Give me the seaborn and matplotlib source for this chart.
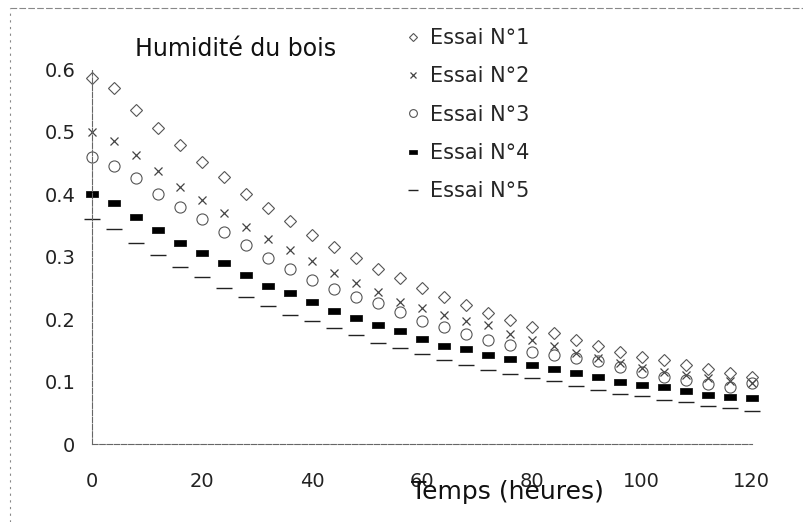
import matplotlib.pyplot as plt
import matplotlib.lines as mlines
import pandas as pd
import seaborn as sns

sns.set_theme(style='white')
plt.rcParams['font.family'] = ['DejaVu Sans']

# time (hours)
temps = [0, 4, 8, 12, 16, 20, 24, 28, 32, 36, 40, 44, 48, 52, 56, 60,
         64, 68, 72, 76, 80, 84, 88, 92, 96, 100, 104, 108, 112, 116, 120]

essai_1 = [0.585, 0.57, 0.535, 0.505, 0.478, 0.452, 0.428, 0.40, 0.377, 0.357,
           0.335, 0.315, 0.298, 0.28, 0.265, 0.25, 0.236, 0.222, 0.21, 0.199,
           0.187, 0.178, 0.167, 0.157, 0.148, 0.14, 0.134, 0.127, 0.12, 0.114,
           0.108]
essai_2 = [0.50, 0.485, 0.462, 0.437, 0.412, 0.39, 0.37, 0.348, 0.328, 0.31,
           0.293, 0.273, 0.258, 0.243, 0.228, 0.217, 0.206, 0.197, 0.19, 0.176,
           0.166, 0.157, 0.146, 0.137, 0.129, 0.122, 0.116, 0.11, 0.105, 0.101,
           0.097]
essai_3 = [0.46, 0.445, 0.425, 0.40, 0.38, 0.36, 0.34, 0.318, 0.297, 0.28,
           0.263, 0.248, 0.236, 0.225, 0.211, 0.197, 0.188, 0.176, 0.167, 0.158,
           0.147, 0.143, 0.138, 0.133, 0.124, 0.115, 0.107, 0.103, 0.096, 0.092,
           0.097]
essai_4 = [0.40, 0.385, 0.363, 0.343, 0.322, 0.305, 0.289, 0.27, 0.253, 0.241,
           0.228, 0.213, 0.202, 0.19, 0.181, 0.168, 0.157, 0.152, 0.143, 0.136,
           0.127, 0.12, 0.114, 0.108, 0.10, 0.095, 0.092, 0.085, 0.079, 0.075,
           0.073]
essai_5 = [0.36, 0.344, 0.322, 0.303, 0.284, 0.268, 0.25, 0.236, 0.221, 0.207,
           0.197, 0.186, 0.175, 0.162, 0.153, 0.144, 0.135, 0.127, 0.119, 0.112,
           0.106, 0.101, 0.093, 0.087, 0.08, 0.077, 0.071, 0.067, 0.061, 0.058,
           0.053]

labels = ['Essai N°1', 'Essai N°2', 'Essai N°3', 'Essai N°4', 'Essai N°5']
series = [essai_1, essai_2, essai_3, essai_4, essai_5]

x_ticks = [0, 20, 40, 60, 80, 100, 120]
y_ticks = [0, 0.1, 0.2, 0.3, 0.4, 0.5, 0.6]
y_tick_labels = ['0', '0.1', '0.2', '0.3', '0.4', '0.5', '0.6']

# flat wide rectangle for the black marker
rect = [(-1, -0.6), (1, -0.6), (1, 0.6), (-1, 0.6), (-1, -0.6)]
styles = [
    dict(marker='D', ms=6, mfc='none', mec='#555555', mew=0.8),
    dict(marker='x', ms=6, mec='#444444', mew=0.9),
    dict(marker='o', ms=8, mfc='none', mec='#555555', mew=0.8),
    dict(marker=rect, ms=8, mfc='black', mec='black', mew=0.5),
    dict(marker='_', ms=11, mec='#222222', mew=1.0),
]

fig = plt.figure(figsize=(8.04, 5.22), dpi=100)
ax = fig.add_axes([0.1144, 0.1494, 0.8206, 0.7184])

for lab, vals, st in zip(labels, series, styles):
    df = pd.DataFrame({'Temps': temps, 'Humidite': vals})
    sns.lineplot(data=df, x='Temps', y='Humidite', ax=ax, linestyle='none',
                 label=lab, clip_on=False, **st)

ax.set_xlim(0, 120)
ax.set_ylim(0, 0.6)
ax.set_xticks(x_ticks)
ax.set_yticks(y_ticks)
ax.set_yticklabels(y_tick_labels)
ax.tick_params(axis='y', direction='inout', length=8, width=0.8,
               color='#444444', pad=8, labelsize=14, labelcolor='#222222')
ax.tick_params(axis='x', direction='in', length=4, width=0.8,
               color='#444444', pad=20, labelsize=14, labelcolor='#222222')

sns.despine(ax=ax, top=True, right=True)
for side in ['left', 'bottom']:
    ax.spines[side].set_color('#666666')
    ax.spines[side].set_linewidth(0.8)
    ax.spines[side].set_linestyle((0, (5, 1.5)))

ax.set_ylabel('')
ax.set_xlabel('Temps (heures)', fontsize=18, color='#111111')
ax.xaxis.set_label_coords(0.629, -0.127)
ax.xaxis.label.set_va('center')

fig.text(236 / 804, 1 - 49 / 522, 'Humidité du bois', fontsize=17,
         ha='center', va='center', color='#111111')

ax.legend(loc='upper left', bbox_to_anchor=(408 / 804, 1 - 28 / 522),
          bbox_transform=fig.transFigure, frameon=False, fontsize=15,
          labelspacing=0.88, handlelength=0.5, handletextpad=0.55,
          markerscale=0.7, borderaxespad=0, borderpad=0)

# scan border around the page
fig.add_artist(mlines.Line2D([10 / 804, 1], [1 - 8 / 522, 1 - 8 / 522],
                             color='#888888', lw=0.8, ls=(0, (6, 2))))
fig.add_artist(mlines.Line2D([10 / 804, 10 / 804], [0, 1 - 8 / 522],
                             color='#888888', lw=0.8, ls=(0, (2, 4))))

fig.savefig('out.png', dpi=100, facecolor='white')
